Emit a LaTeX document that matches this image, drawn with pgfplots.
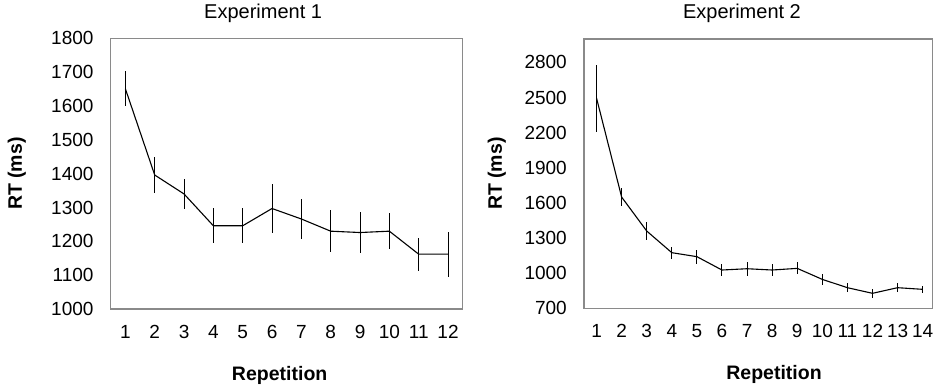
\documentclass[border=0pt]{standalone}
\usepackage{pgfplots}
\pgfplotsset{compat=1.18}
\usepackage{fontspec}
\setmainfont{Liberation Sans}
\definecolor{frame}{HTML}{8A8A8A}
\newcommand{\mylabfont}{\fontsize{19.5pt}{22pt}\selectfont\bfseries}
\newcommand{\mytickfont}{\fontsize{19pt}{22pt}\selectfont}
\newcommand{\mytitfont}{\fontsize{20pt}{23pt}\selectfont}
\pgfplotstableread{
x y e
1 1651 52
2 1396 52
3 1340 45
4 1246 52
5 1246 52
6 1297 71
7 1266 60
8 1230 62
9 1226 60
10 1230 54
11 1162 49
12 1162 66
}\expone
\pgfplotstableread{
x y e
1 2495 285
2 1650 78
3 1360 78
4 1175 52
5 1141 60
6 1027 55
7 1038 58
8 1027 52
9 1041 52
10 947 50
11 876 40
12 828 36
13 876 37
14 862 31
}\exptwo
\begin{document}
\fontsize{19pt}{22pt}\selectfont
\begin{tikzpicture}[x=1pt,y=1pt]
\useasboundingbox (-110.7,-77) rectangle (822.3,309);
\begin{axis}[
  scale only axis,
  at={(0pt,0pt)}, anchor=south west,
  width=352pt, height=270.7pt,
  axis line style={frame, line width=1.1pt},
  major tick length=0pt,
  xmin=0.5, xmax=12.5, ymin=1000, ymax=1800,
  xtick=data,
  ytick={1000,1100,...,1800},
  /pgf/number format/assume math mode=true,
  /pgf/number format/1000 sep={},
  xticklabel={\mytickfont\pgfmathprintnumber{\tick}},
  yticklabel={\mytickfont\pgfmathprintnumber{\tick}},
  yticklabel style={font=\mytickfont, anchor=east, inner sep=0pt, xshift=-17pt},
  xticklabel style={font=\mytickfont, anchor=base, inner sep=0pt, yshift=-29pt},
  title={Experiment 1},
  title style={font=\mytitfont, anchor=base, at={(axis description cs:0.433,1.052)}},
  xlabel={Repetition},
  xlabel style={font=\mylabfont, anchor=base, at={(axis description cs:0.48,-0.263)}},
  ylabel={RT (ms)},
  ylabel style={font=\mylabfont, anchor=center, at={(axis description cs:-0.267,0.5)}},
]
\addplot[black, line width=1.1pt, mark=none,
  error bars/.cd, y dir=both, y explicit, error mark=none,
  error bar style={line width=1pt, black}]
  table[x=x, y=y, y error=e] {\expone};
\end{axis}
\begin{axis}[
  scale only axis,
  at={(473.3pt,0.7pt)}, anchor=south west,
  width=348.7pt, height=269.3pt,
  axis line style={frame, line width=1.1pt},
  major tick length=0pt,
  xmin=0.5, xmax=14.4, ymin=700, ymax=3000,
  xtick=data,
  ytick={700,1000,...,2800},
  /pgf/number format/assume math mode=true,
  /pgf/number format/1000 sep={},
  xticklabel={\mytickfont\pgfmathprintnumber{\tick}},
  yticklabel={\mytickfont\pgfmathprintnumber{\tick}},
  yticklabel style={font=\mytickfont, anchor=east, inner sep=0pt, xshift=-17pt},
  xticklabel style={font=\mytickfont, anchor=base, inner sep=0pt, yshift=-29pt},
  title={Experiment 2},
  title style={font=\mytitfont, anchor=base, at={(axis description cs:0.453,1.055)}},
  xlabel={Repetition},
  xlabel style={font=\mylabfont, anchor=base, at={(axis description cs:0.545,-0.266)}},
  ylabel={RT (ms)},
  ylabel style={font=\mylabfont, anchor=center, at={(axis description cs:-0.25,0.5)}},
]
\addplot[black, line width=1.1pt, mark=none,
  error bars/.cd, y dir=both, y explicit, error mark=none,
  error bar style={line width=1pt, black}]
  table[x=x, y=y, y error=e] {\exptwo};
\end{axis}
\end{tikzpicture}
\end{document}
